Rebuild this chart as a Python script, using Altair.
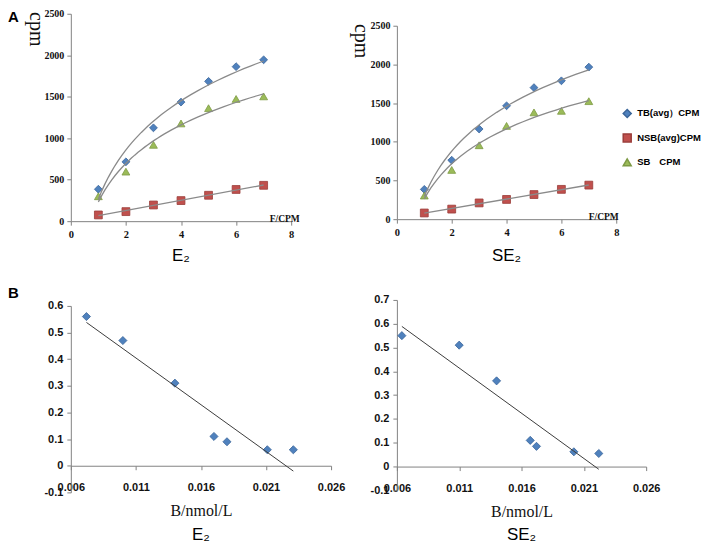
import altair as alt
import pandas as pd

# ---- data ----
conc = [1, 2, 3, 4, 5, 6, 7]
series_names = ["TB(avg）CPM", "NSB(avg)CPM", "SB　CPM"]

e2_tb = [385, 715, 1125, 1435, 1685, 1862, 1945]
e2_nsb = [75, 115, 195, 248, 312, 382, 432]
e2_sb = [300, 597, 920, 1178, 1362, 1473, 1504]

se2_tb = [385, 762, 1165, 1465, 1700, 1788, 1965]
se2_nsb = [80, 130, 210, 255, 318, 385, 440]
se2_sb = [305, 636, 955, 1205, 1380, 1400, 1525]

e2_bound = [0.0072, 0.0100, 0.0140, 0.0170, 0.0180, 0.0211, 0.0231]
e2_ratio = [0.56, 0.47, 0.31, 0.11, 0.09, 0.06, 0.06]
se2_bound = [0.0064, 0.0110, 0.0140, 0.0167, 0.0172, 0.0202, 0.0222]
se2_ratio = [0.55, 0.51, 0.36, 0.11, 0.085, 0.062, 0.055]

sat_x_ticks = [0, 2, 4, 6, 8]
sat_y_ticks = [0, 500, 1000, 1500, 2000, 2500]
sc_x_ticks = [0.006, 0.011, 0.016, 0.021, 0.026]
e2_y_ticks = [-0.1, 0, 0.1, 0.2, 0.3, 0.4, 0.5, 0.6]
se2_y_ticks = [-0.1, 0, 0.1, 0.2, 0.3, 0.4, 0.5, 0.6, 0.7]
panel_letters = ["A", "B"]

# ---- styles ----
SERIF = "Liberation Serif"
SANS = "Liberation Sans"
AXIS = "#828282"
TREND = "#8a8a8a"
fills = ["#4F81BD", "#C0504D", "#9BBB59"]
edges = ["#3A6599", "#9B3D3A", "#7D9A44"]
shapes = ["diamond", "square", "triangle-up"]


def saturation_frame(tb, nsb, sb):
    return pd.DataFrame({
        "x": conc * 3,
        "value": tb + nsb + sb,
        "series": [s for s in series_names for _ in conc],
    })


def saturation(df, name, height, top, cpm_x, cpm_y, fcpm_x, title_offset, legend=None, letter=None):
    x = alt.X("x:Q", scale=alt.Scale(domain=[0, 8], nice=False),
              axis=alt.Axis(values=sat_x_ticks, tickCount=len(sat_x_ticks), labelFlush=False,
                            labelFont=SERIF, labelFontSize=10.5, labelFontWeight="bold",
                            tickSize=4, labelPadding=4, title="F/CPM", titleX=fcpm_x, titleY=2,
                            titleAlign="left", titleBaseline="bottom", titleFont=SERIF,
                            titleFontSize=9.5, titleFontWeight="bold"))
    y = alt.Y("value:Q", scale=alt.Scale(domain=[0, 2500], range=[height, top], nice=False),
              axis=alt.Axis(values=sat_y_ticks, tickCount=len(sat_y_ticks), format="d",
                            labelFlush=False, labelFont=SERIF, labelFontSize=10,
                            labelFontWeight="bold", tickSize=4, labelPadding=3,
                            labelOverlap=False, title="cpm", titleAngle=90,
                            titleX=cpm_x, titleY=cpm_y, titleBaseline="middle",
                            titleFont=SERIF, titleFontSize=20, titleFontWeight="normal"))
    points = alt.Chart(df).mark_point(filled=True, opacity=1, size=62, strokeWidth=0.8).encode(
        x=x,
        y=y,
        color=alt.Color("series:N", scale=alt.Scale(domain=series_names, range=fills), legend=legend),
        shape=alt.Shape("series:N", scale=alt.Scale(domain=series_names, range=shapes), legend=legend),
        stroke=alt.Stroke("series:N", scale=alt.Scale(domain=series_names, range=edges), legend=None),
    )
    log_fit = (
        alt.Chart(df)
        .transform_filter(alt.datum.series != series_names[1])
        .transform_regression("x", "value", method="log", groupby=["series"])
        .mark_line(color=TREND, strokeWidth=1.3)
        .encode(x="x:Q", y="value:Q", detail="series:N")
    )
    lin_fit = (
        alt.Chart(df)
        .transform_filter(alt.datum.series == series_names[1])
        .transform_regression("x", "value")
        .mark_line(color=TREND, strokeWidth=1.3)
        .encode(x="x:Q", y="value:Q")
    )
    layers = [points, log_fit, lin_fit]
    if letter:
        layers.append(
            alt.Chart(pd.DataFrame({"t": [letter]}))
            .mark_text(align="left", baseline="middle", font=SANS, fontSize=15, fontWeight="bold")
            .encode(x=alt.value(-63), y=alt.value(3), text="t:N")
        )
    return alt.layer(*layers).properties(
        width=221 if letter else 220,
        height=height,
        title=alt.TitleParams(name, orient="bottom", anchor="middle", frame="group",
                              font=SANS, fontSize=17, fontWeight="normal", offset=title_offset),
    )


def scatchard(b, ratio, y_ticks, width, height, top, name, letter=None):
    df = pd.DataFrame({"b": b, "ratio": ratio})
    ymin, ymax = y_ticks[0], y_ticks[-1]
    # the x axis line sits on ratio = 0, as in the spreadsheet original
    zero_shift = -(height - top) * (0 - ymin) / (ymax - ymin)
    x = alt.X("b:Q", scale=alt.Scale(domain=[sc_x_ticks[0], sc_x_ticks[-1]], nice=False),
              axis=alt.Axis(values=sc_x_ticks, tickCount=len(sc_x_ticks), format=".3f",
                            labelFlush=False, offset=zero_shift, labelFont=SANS,
                            labelFontSize=11, labelFontWeight="bold", tickSize=4,
                            labelPadding=12, labelOverlap=False, title="B/nmol/L",
                            titleY=45, titleBaseline="middle", titleFont=SERIF,
                            titleFontSize=16, titleFontWeight="normal"))
    y = alt.Y("ratio:Q", scale=alt.Scale(domain=[ymin, ymax], range=[height, top], nice=False),
              axis=alt.Axis(values=y_ticks, tickCount=len(y_ticks), labelFlush=False,
                            labelExpr="datum.value === 0 ? '0' : '' + round(datum.value * 10) / 10",
                            labelFont=SANS, labelFontSize=11, labelFontWeight="bold",
                            labelOverlap=False, tickSize=4, labelPadding=4, title=None))
    points = alt.Chart(df).mark_point(filled=True, opacity=1, size=66, strokeWidth=0.8).encode(
        x=x,
        y=y,
        shape=alt.value("diamond"),
        color=alt.value(fills[0]),
        stroke=alt.value(edges[0]),
    )
    fit = (
        alt.Chart(df)
        .transform_regression("b", "ratio")
        .mark_line(color="#3c3c3c", strokeWidth=1)
        .encode(x="b:Q", y="ratio:Q")
    )
    layers = [points, fit]
    if letter:
        layers.append(
            alt.Chart(pd.DataFrame({"t": [letter]}))
            .mark_text(align="left", baseline="middle", font=SANS, fontSize=15, fontWeight="bold")
            .encode(x=alt.value(-63), y=alt.value(-7), text="t:N")
        )
    return alt.layer(*layers).properties(
        width=width,
        height=height,
        title=alt.TitleParams(name, orient="bottom", anchor="middle", frame="group",
                              font=SANS, fontSize=17, fontWeight="normal", offset=8),
    )


legend = alt.Legend(orient="none", legendX=226, legendY=95, title=None, padding=0,
                    labelFont=SANS, labelFontSize=9.5, labelFontWeight="bold",
                    symbolSize=64, rowPadding=10.5, labelOffset=5)

top_left = saturation(saturation_frame(e2_tb, e2_nsb, e2_sb), "E₂", 208, 0, -35, 15, 199, 8,
                      letter=panel_letters[0])
top_right = saturation(saturation_frame(se2_tb, se2_nsb, se2_sb), "SE₂", 206, 12, -36, 27, 192, 10,
                       legend=legend)
bottom_left = scatchard(e2_bound, e2_ratio, e2_y_ticks, 261, 193, 6, "E₂", letter=panel_letters[1])
bottom_right = scatchard(se2_bound, se2_ratio, se2_y_ticks, 250, 191, 0, "SE₂")

chart = (
    alt.concat(top_left, top_right, bottom_left, bottom_right, columns=2,
               spacing={"row": 79, "column": 66}, bounds="flush")
    .resolve_scale(color="independent", shape="independent", stroke="independent")
    .properties(padding=0)
    .configure_view(strokeWidth=0)
    .configure_axis(domainColor=AXIS, tickColor=AXIS, grid=False, labelColor="#111", titleColor="#111")
)

chart.save("out.html", embed_options={"renderer": "svg", "actions": False})
